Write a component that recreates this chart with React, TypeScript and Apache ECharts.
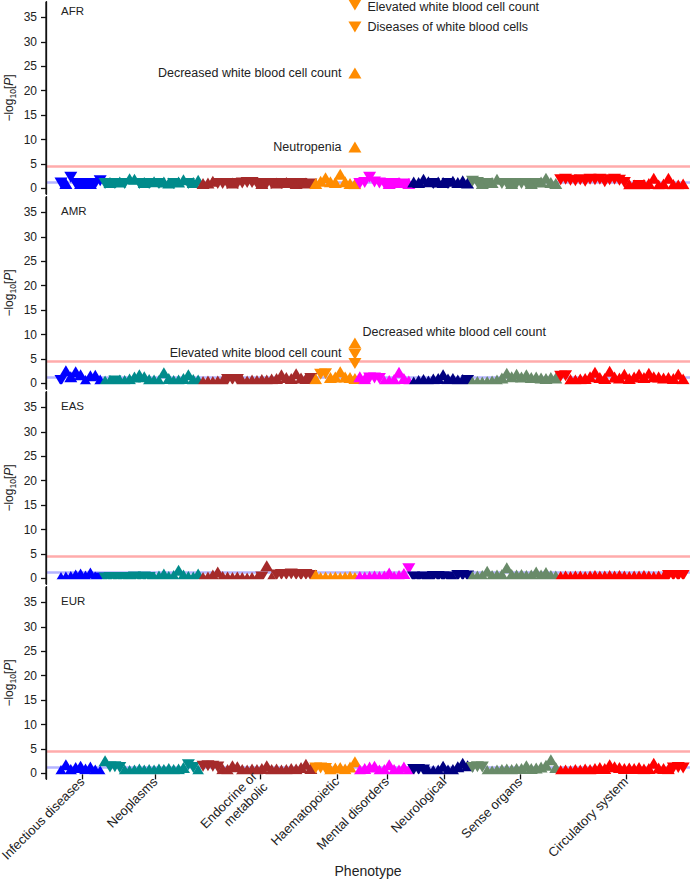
import React, { useEffect, useRef } from 'react';
import * as echarts from 'echarts';

// ---------- DATA ----------
const populations = ['AFR', 'AMR', 'EAS', 'EUR'];
const categories = [
  'Infectious diseases',
  'Neoplasms',
  'Endocrine or\nmetabolic',
  'Haematopoietic',
  'Mental disorders',
  'Neurological',
  'Sense organs',
  'Circulatory system',
];
// phenotype-order positions of the category tick labels
const tickPositions = [4.3, 19.2, 40.6, 56.3, 66.5, 78.2, 93.7, 115.3];
const yTicks = [0, 5, 10, 15, 20, 25, 30, 35];
const nominalLine = 1.3;
const significanceLine = 4.6;

// signed -log10[P] per phenotype (negative sign = downward triangle / negative effect)
const afrInf = [-1.1, 1.0, -2.3, -1.0, 1.0, -1.0, 1.0, -1.0, -1.6];
const afrNeo = [-1.0, 1.2, -1.0, 1.3, -1.0, 2.0, 1.9, -1.0, 1.2, -1.0, 1.4, -1.0, 1.3, 1.1, -1.0, 1.3, 1.8, -1.0, 1.2, 1.7];
const afrEnd = [1.0, 1.1, 1.5, -1.0, -1.0, -1.0, 1.1, -1.0, -1.1, -1.2, -1.2, -1.0, 1.0, -1.0, -1.0, 1.1, -1.0, 1.2, -1.0, 1.0, -1.0, 1.1, -0.9];
const afrHae = [1.0, 1.5, 2.2, 1.4, 1.2, 2.9, 1.4, 1.0, 0.9];
const afrMen = [-1.0, -1.2, -2.3, -1.3, -1.1, -1.0, 1.0, -1.0, 1.2, -0.9, 1.0];
const afrNeu = [1.3, 1.2, 1.9, 1.4, -1.0, 1.3, 1.2, -1.0, 1.5, 1.2, 1.6, 1.1];
const afrSen = [-1.5, -1.2, 1.0, -1.0, 1.2, 1.9, -1.0, -1.0, 1.0, -1.0, -1.0, -1.0, 1.0, -1.0, 1.3, 2.1, 1.2, 1.0];
const afrCir = [-1.8, -1.9, -1.7, -1.6, -1.8, -1.5, -1.9, -1.8, -1.9, -1.4, -1.8, -1.9, -1.7, -1.2, 0.8, 0.7, -0.6, 0.8, 1.0, 2.1, 0.7, 0.9, 2.1, 0.8, 0.7, 0.9];

const amrInf = [-0.6, 2.6, 1.4, 2.4, 1.8, 0.6, 1.6, 1.7, 0.7];
const amrNeo = [0.5, 0.6, -0.5, 0.7, 0.6, 0.9, 1.3, 1.8, 1.4, 0.8, 0.7, 0.6, 2.2, 1.0, 0.6, 0.7, 1.0, 1.8, 0.8, 0.7];
const amrEnd = [0.4, 0.5, 0.4, 0.5, 0.6, -0.8, -0.8, -0.8, 0.6, 0.5, 0.7, 0.6, 0.8, 0.7, 0.9, 1.0, 1.8, 1.2, 1.0, 2.0, 1.1, 1.0, -1.0];
const amrHae = [0.9, -1.9, -2.0, 1.2, 1.3, 2.4, 1.3, 1.2, 1.0];
const amrMen = [1.4, 0.9, -1.1, -1.1, -1.0, 0.5, 0.6, 0.8, 2.3, 1.0, 0.5];
const amrNeu = [0.3, 0.6, 0.8, 0.5, 0.9, 1.0, 1.8, 0.9, 1.0, 0.7, 0.8, -0.6];
const amrSen = [0.3, 0.4, 0.3, 0.4, 0.5, 0.7, 1.1, 2.1, 1.4, 1.9, 1.3, 1.8, 1.2, 1.3, 1.1, 1.0, 1.2, 1.1];
const amrCir = [-1.5, -1.6, 0.8, 0.7, 0.9, 1.0, 1.4, 2.3, 1.2, 1.0, 2.5, 1.3, 1.1, 1.9, 1.0, 1.3, 1.9, 1.2, 2.1, 1.4, 1.3, 1.1, 1.2, 1.0, 1.9, 0.9];

const easInf = [0.2, 0.3, 0.4, 0.7, 0.9, 0.5, 1.1, 0.3, -0.1];
const easNeo = [-0.1, -0.2, -0.2, -0.1, -0.2, 0.1, -0.3, -0.2, -0.3, -0.2, 0.3, 0.5, 0.9, 0.4, 0.6, 1.7, 0.7, 0.4, 0.3, 0.9];
const easEnd = [0.2, 0.3, 0.7, 1.3, 0.4, 0.3, 0.2, 0.3, 0.2, 0.1, 0.2, 0.1, -0.3, 2.6, 0.2, -0.7, -0.8, -0.8, -0.9, -0.8, -0.7, -0.8, -0.6];
const easHae = [0.7, 0.2, 0.3, 0.2, 0.3, 0.2, 0.3, 0.4, 0.2];
const easMen = [0.4, 0.3, 0.4, 0.5, 0.4, 0.5, 1.1, 0.4, 0.6, 1.0, -2.0];
const easNeu = [-0.3, -0.2, -0.3, 0.1, -0.4, -0.4, -0.3, -0.3, 0.2, -0.6, -0.6, -0.5];
const easSen = [0.4, 0.5, 0.6, 1.5, 0.6, 0.7, 0.8, 2.2, 0.8, 0.7, 0.8, 0.6, 0.7, 1.3, 0.7, 1.2, 0.6, 0.5];
const easCir = [0.4, 0.5, 0.4, 0.5, 0.5, 0.4, 0.5, 0.6, 0.5, 0.5, 0.6, 0.5, 0.6, 0.5, 0.4, 0.5, 0.5, 0.6, 0.5, 0.4, 0.5, 0.4, -0.6, -0.6, -0.5, -0.6];

const eurInf = [0.6, 1.8, 0.8, 1.2, 1.5, 0.9, 1.3, 0.7, 0.5];
const eurNeo = [2.6, -1.3, -1.4, -1.2, 0.7, 0.6, 0.7, 0.9, 0.7, 0.8, 0.7, 0.9, 0.8, 1.0, 0.8, 0.9, 1.2, -1.8, -1.2, 0.7];
const eurEnd = [-1.5, -1.6, -1.5, -1.3, 0.9, 0.8, 1.6, 1.4, 0.8, 0.7, 0.9, 0.8, 1.0, 1.6, 0.8, 0.9, 0.7, 0.8, 1.0, 0.9, 1.2, 1.9, 1.0];
const eurHae = [-1.1, -1.1, -1.0, 0.8, 1.1, 1.2, 0.9, 1.3, 2.4];
const eurMen = [0.7, 1.0, 1.3, 1.5, 0.7, 0.8, 1.8, 0.8, 0.7, 1.3, 0.7];
const eurNeu = [-0.8, -0.8, -0.7, 0.6, 0.6, 0.7, 1.5, 0.7, 0.8, 1.4, 2.1, 1.6];
const eurSen = [-1.2, -1.4, -1.3, 0.6, 0.5, 0.7, 0.8, 0.9, 0.8, 1.0, 1.0, 1.6, 1.0, 1.1, 1.3, 1.7, 2.8, 1.2];
const eurCir = [0.6, 0.7, 0.6, 0.8, 0.7, 0.9, 0.8, 1.0, 1.2, 1.0, 1.8, 1.4, 1.2, 1.0, 1.1, 1.0, 1.2, 0.9, 1.0, 2.1, 1.1, 1.0, 0.9, -1.1, -1.2, -1.1];

// highlighted haematopoietic phenotypes
const hitIndex = 60;
const afrHitValues = [-37.5, -33.0, 23.6, 8.5];
const afrHitLabels = ['Elevated white blood cell count', 'Diseases of white blood cells', 'Decreased white blood cell count', 'Neutropenia'];
const amrHitValues = [8.3, -6.0, -4.1];
const amrHitLabels = ['Decreased white blood cell count', 'Elevated white blood cell count', ''];

// ---------- STYLE / LAYOUT ----------
const FONT = '"Liberation Sans", Arial, Helvetica, sans-serif';
const TEXT = '#222';
const AXIS = '#111';
const COLORS = ['#0000ff', '#008b8b', '#a52a2a', '#ff8c00', '#ff00ff', '#000080', '#698b69', '#ff0000'];
const HIT_COLOR = '#ff8c00';
const X_MIN = -3.06;
const X_MAX = 128.4;
const Y_MIN = -1.2;
const Y_MAX = 38.2;
const GRID_LEFT = 46;
const GRID_WIDTH = 644;
const GRID_TOP = 1.65;
const GRID_STEP = 195;
const GRID_HEIGHT = 192.7;
const SYMBOL: [number, number] = [13, 11];
const panelLabelY = [11, 211, 406, 601];

const afrHitPlacement = [
  { position: 'right', distance: 6, offset: [0, 2] },
  { position: 'right', distance: 6, offset: [0, 0] },
  { position: 'left', distance: 7, offset: [0, 0] },
  { position: 'left', distance: 7, offset: [0, 0] },
];
const amrHitPlacement = [
  { position: 'right', distance: 1, offset: [0, -11] },
  { position: 'left', distance: 7, offset: [0, -1] },
  { position: 'left', distance: 7, offset: [0, 0] },
];

const panelData = [
  [afrInf, afrNeo, afrEnd, afrHae, afrMen, afrNeu, afrSen, afrCir],
  [amrInf, amrNeo, amrEnd, amrHae, amrMen, amrNeu, amrSen, amrCir],
  [easInf, easNeo, easEnd, easHae, easMen, easNeu, easSen, easCir],
  [eurInf, eurNeo, eurEnd, eurHae, eurMen, eurNeu, eurSen, eurCir],
];
const panelHits = [
  { values: afrHitValues, labels: afrHitLabels, placement: afrHitPlacement },
  { values: amrHitValues, labels: amrHitLabels, placement: amrHitPlacement },
  null,
  null,
];

function buildOption() {
  const grid = populations.map((_, p) => ({
    left: GRID_LEFT,
    width: GRID_WIDTH,
    top: GRID_TOP + p * GRID_STEP,
    height: GRID_HEIGHT,
    containLabel: false,
    outerBoundsMode: 'none',
  }));

  const xAxis = populations.map((_, p) => ({
    type: 'value',
    gridIndex: p,
    min: X_MIN,
    max: X_MAX,
    show: p === populations.length - 1,
    position: 'bottom',
    offset: -5,
    z: 150,
    axisLine: { show: false, onZero: false },
    splitLine: { show: false },
    axisTick: { show: true, customValues: tickPositions, length: 5, lineStyle: { color: AXIS, width: 1.3, opacity: 1 } },
    axisLabel: {
      customValues: tickPositions,
      formatter: (v: number) => {
        const i = tickPositions.indexOf(v);
        return i >= 0 ? categories[i] : '';
      },
      rotate: 45,
      fontSize: 13,
      lineHeight: 15,
      color: TEXT,
      margin: 5,
      fontFamily: FONT,
      hideOverlap: false,
    },
    name: p === populations.length - 1 ? 'Phenotype' : '',
    nameLocation: 'middle',
    nameGap: 90,
    nameMoveOverlap: false,
    nameTextStyle: { fontSize: 14, color: TEXT, fontFamily: FONT },
  }));

  const yAxis = populations.map((_, p) => ({
    type: 'value',
    gridIndex: p,
    min: Y_MIN,
    max: Y_MAX,
    position: 'left',
    z: 160,
    axisLine: { show: true, onZero: false, lineStyle: { color: AXIS, width: 1.3, opacity: 1 } },
    axisTick: { show: true, inside: false, customValues: yTicks, length: 5, lineStyle: { color: AXIS, width: 1.3, opacity: 1 } },
    axisLabel: { customValues: yTicks, fontSize: 12, color: TEXT, margin: 9, fontFamily: FONT },
    splitLine: { show: false },
    name: '{a|\u2212log}{s|10}{a|[}{i|P}{a|]}',
    nameLocation: 'middle',
    nameRotate: 90,
    nameGap: 29,
    nameMoveOverlap: false,
    nameTextStyle: {
      fontSize: 11.5,
      color: TEXT,
      fontFamily: FONT,
      rich: {
        a: { fontSize: 12, color: TEXT, fontFamily: FONT, lineHeight: 16 },
        s: { fontSize: 8.5, color: TEXT, fontFamily: FONT, lineHeight: 6, verticalAlign: 'bottom' },
        i: { fontSize: 12, color: TEXT, fontFamily: FONT, fontStyle: 'italic', lineHeight: 16 },
      },
    },
  }));

  const series: any[] = [];
  populations.forEach((_, p) => {
    // threshold lines
    series.push({
      type: 'scatter',
      xAxisIndex: p,
      yAxisIndex: p,
      data: [],
      z: 1,
      silent: true,
      markLine: {
        z: 1,
        silent: true,
        symbol: 'none',
        label: { show: false },
        lineStyle: { type: 'solid', opacity: 1 },
        data: [
          { yAxis: nominalLine, lineStyle: { color: '#b4b4ff', width: 2.5, type: 'solid', opacity: 1 } },
          { yAxis: significanceLine, lineStyle: { color: '#ffabab', width: 2.5, type: 'solid', opacity: 1 } },
        ],
      },
    });
    // left axis spine drawn along the axis range
    series.push({
      type: 'line',
      xAxisIndex: p,
      yAxisIndex: p,
      data: [[X_MIN, Y_MIN], [X_MIN, Y_MAX]],
      symbol: 'none',
      clip: false,
      silent: true,
      z: 20,
      lineStyle: { color: AXIS, width: 1.3, opacity: 1 },
    });
    let start = 0;
    panelData[p].forEach((vals, c) => {
      const s0 = start;
      series.push({
        type: 'scatter',
        xAxisIndex: p,
        yAxisIndex: p,
        symbol: 'triangle',
        symbolSize: SYMBOL,
        silent: true,
        z: 3,
        itemStyle: { color: COLORS[c], opacity: 1, borderWidth: 0 },
        data: vals.map((v, i) => ({ value: [s0 + i, Math.abs(v)], symbolRotate: v < 0 ? 180 : 0 })),
      });
      start += vals.length;
    });
    const hits = panelHits[p];
    if (hits) {
      series.push({
        type: 'scatter',
        xAxisIndex: p,
        yAxisIndex: p,
        symbol: 'triangle',
        symbolSize: SYMBOL,
        silent: true,
        z: 4,
        itemStyle: { color: HIT_COLOR, opacity: 1, borderWidth: 0 },
        data: hits.values.map((v, i) => ({
          value: [hitIndex, Math.abs(v)],
          symbolRotate: v < 0 ? 180 : 0,
          label: {
            show: !!hits.labels[i],
            formatter: hits.labels[i],
            position: hits.placement[i].position,
            distance: hits.placement[i].distance,
            offset: hits.placement[i].offset,
            color: TEXT,
            fontSize: 12.5,
            fontFamily: FONT,
          },
        })),
      });
    }
  });

  return {
    animation: false,
    backgroundColor: '#ffffff',
    textStyle: { fontFamily: FONT },
    grid,
    xAxis,
    yAxis,
    series,
  };
}

export default function App() {
  const ref = useRef<HTMLDivElement>(null);
  useEffect(() => {
    document.body.style.margin = '0';
    if (!ref.current) return;
    const chart = echarts.init(ref.current, undefined, { renderer: 'svg' });
    chart.setOption(buildOption() as any);

    const labels = populations.map((name, p) => ({
      type: 'text',
      x: 61,
      y: panelLabelY[p],
      z: 120,
      silent: true,
      style: { text: name, fontSize: 11.5, fontFamily: FONT, fill: TEXT, verticalAlign: 'middle', align: 'left' },
    }));
    const masks: any[] = [];
    populations.forEach((_, p) => {
      const top = GRID_TOP + p * GRID_STEP;
      const zeroPx = top + (GRID_HEIGHT * (Y_MAX - -0.15)) / (Y_MAX - Y_MIN);
      masks.push({
        type: 'rect',
        z: 100,
        silent: true,
        shape: { x: GRID_LEFT + 1.5, y: zeroPx, width: GRID_WIDTH + 12, height: top + GRID_HEIGHT - zeroPx + 1.5 },
        style: { fill: '#ffffff' },
      });
    });
    chart.setOption({ graphic: { elements: [...masks, ...labels] } } as any);

    return () => chart.dispose();
  }, []);
  return <div ref={ref} style={{ width: 700, height: 880 }} />;
}
